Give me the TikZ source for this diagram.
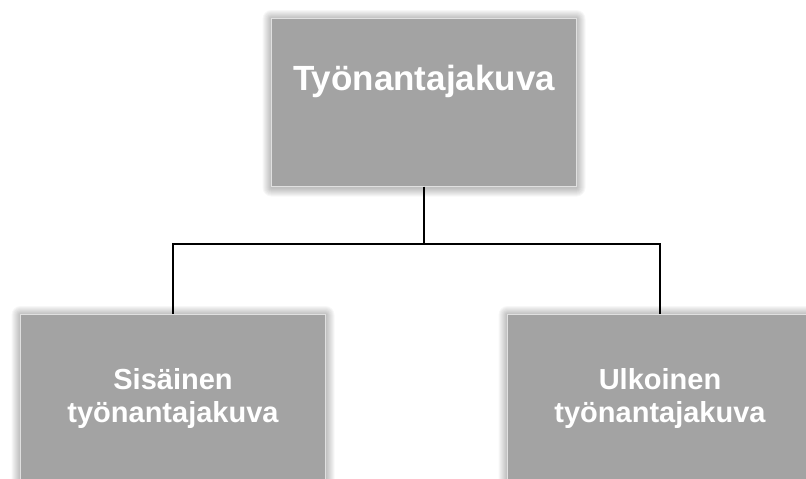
\documentclass[tikz,border=0pt]{standalone}
\usepackage{fontspec}
\setmainfont{Liberation Sans}
\begin{document}
\begin{tikzpicture}[x=1pt,y=-1pt,
  box/.style={rectangle, fill=boxgray, draw=black!12, line width=1pt,
    inner sep=0pt, minimum width=305pt, minimum height=168pt,
    text=white, align=center, font=\bfseries\fontsize{29}{33}\selectfont},
  link/.style={draw=black, line width=2pt},
  glowlayer/.style={fill=black, opacity=0.033, draw=none}]
\definecolor{boxgray}{HTML}{A3A3A3}
\useasboundingbox (0,0) rectangle (806,479);
\clip (0,0) rectangle (806,479);

% soft glow behind each box
\foreach \cx/\cy in {424/102, 173/398, 660/398}{
  \foreach \k in {1,...,9}{
    \fill[glowlayer, rounded corners=\k pt]
      (\cx-152.5-\k, \cy-84-\k+1) rectangle (\cx+152.5+\k, \cy+84+\k+1.5);
  }
}

\node[box] (top) at (424,102) {};
\node[text=white, anchor=base, font=\bfseries\fontsize{35}{40}\selectfont]
  (toptext) at (424,90) {Työnantajakuva};

\node[box] (inner) at (173,398) {Sisäinen\\työnantajakuva};
\node[box] (outer) at (660,398) {Ulkoinen\\työnantajakuva};

% hierarchy connector
\coordinate (bus) at (424,244);
\draw[link] (top.south) -- (bus);
\draw[link] (inner.north) |- (bus) -| (outer.north);
\end{tikzpicture}
\end{document}
